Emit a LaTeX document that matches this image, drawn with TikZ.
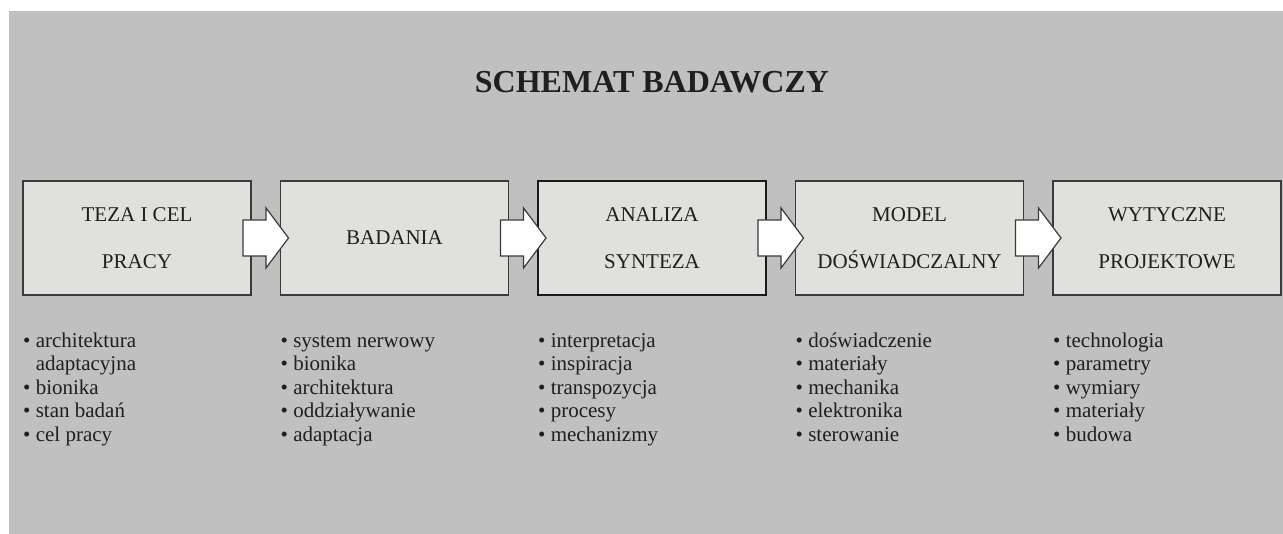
\documentclass[tikz,border=0pt]{standalone}
\usepackage{fontspec}
\setmainfont{Liberation Serif}
\usetikzlibrary{positioning}
\definecolor{tlo}{RGB}{192,192,192}
\definecolor{pole}{RGB}{224,224,221}
\definecolor{ramka}{RGB}{58,58,58}
\newcommand{\pkt}{\textbullet\ }
\newcommand{\wys}{\rule{0pt}{15pt}}

\begin{document}
\begin{tikzpicture}[
						etap/.style={rectangle, draw=ramka, fill=pole, line width=1.3pt, minimum width=228pt, minimum height=114pt, outer sep=0pt, inner sep=0pt, align=center, text=black!88, font=\fontsize{21}{47}\selectfont},
						glowny/.style={etap, draw=black!90, line width=2.6pt},
						lista/.style={inner sep=0pt, align=left, text=black!88, font=\fontsize{21}{23.6}\selectfont},
						tytul/.style={text=black!88, font=\bfseries\fontsize{32}{36}\selectfont},
						strzalka/.style={draw=ramka, fill=white, line width=1.2pt, line join=miter,
							to path={([shift={(-8pt,18pt)}]\tikztostart) -- ([shift={(15pt,18pt)}]\tikztostart) -- ([shift={(15pt,30pt)}]\tikztostart) -- ([xshift=8pt]\tikztotarget) -- ([shift={(15pt,-30pt)}]\tikztostart) -- ([shift={(15pt,-18pt)}]\tikztostart) -- ([shift={(-8pt,-18pt)}]\tikztostart) -- cycle}},
						node distance=29.5pt
					]
					% tlo
					\fill[white] (0pt,0pt) rectangle (1283pt,-534pt);
					\fill[tlo] (9pt,-11pt) rectangle (1283pt,-534pt);
					\node[tytul, anchor=base] (naglowek) at (652pt,-93pt) {SCHEMAT BADAWCZY};
					% etapy
					\node[etap] (teza) at (137pt,-238pt) {TEZA I CEL\\PRACY};
					\node[etap] (badania) [right=of teza] {BADANIA};
					\node[glowny] (analiza) [right=of badania] {ANALIZA\\SYNTEZA};
					\node[etap] (model) [right=of analiza] {MODEL\\DOŚWIADCZALNY};
					\node[etap] (wytyczne) [right=of model] {WYTYCZNE\\PROJEKTOWE};
					% strzalki
					\draw[strzalka] (teza.east) to (badania.west);
					\draw[strzalka] (badania.east) to (analiza.west);
					\draw[strzalka] (analiza.east) to (model.west);
					\draw[strzalka] (model.east) to (wytyczne.west);
					% listy
					\node[lista, below=37pt of teza.south west, anchor=north west] (lista1) {\wys\pkt architektura\\\phantom{\pkt}adaptacyjna\\\pkt bionika\\\pkt stan badań\\\pkt cel pracy};
					\node[lista, below=37pt of badania.south west, anchor=north west] (lista2) {\wys\pkt system nerwowy\\\pkt bionika\\\pkt architektura\\\pkt oddziaływanie\\\pkt adaptacja};
					\node[lista, below=37pt of analiza.south west, anchor=north west] (lista3) {\wys\pkt interpretacja\\\pkt inspiracja\\\pkt transpozycja\\\pkt procesy\\\pkt mechanizmy};
					\node[lista, below=37pt of model.south west, anchor=north west] (lista4) {\wys\pkt doświadczenie\\\pkt materiały\\\pkt mechanika\\\pkt elektronika\\\pkt sterowanie};
					\node[lista, below=37pt of wytyczne.south west, anchor=north west] (lista5) {\wys\pkt technologia\\\pkt parametry\\\pkt wymiary\\\pkt materiały\\\pkt budowa};
					\end{tikzpicture}
\end{document}
